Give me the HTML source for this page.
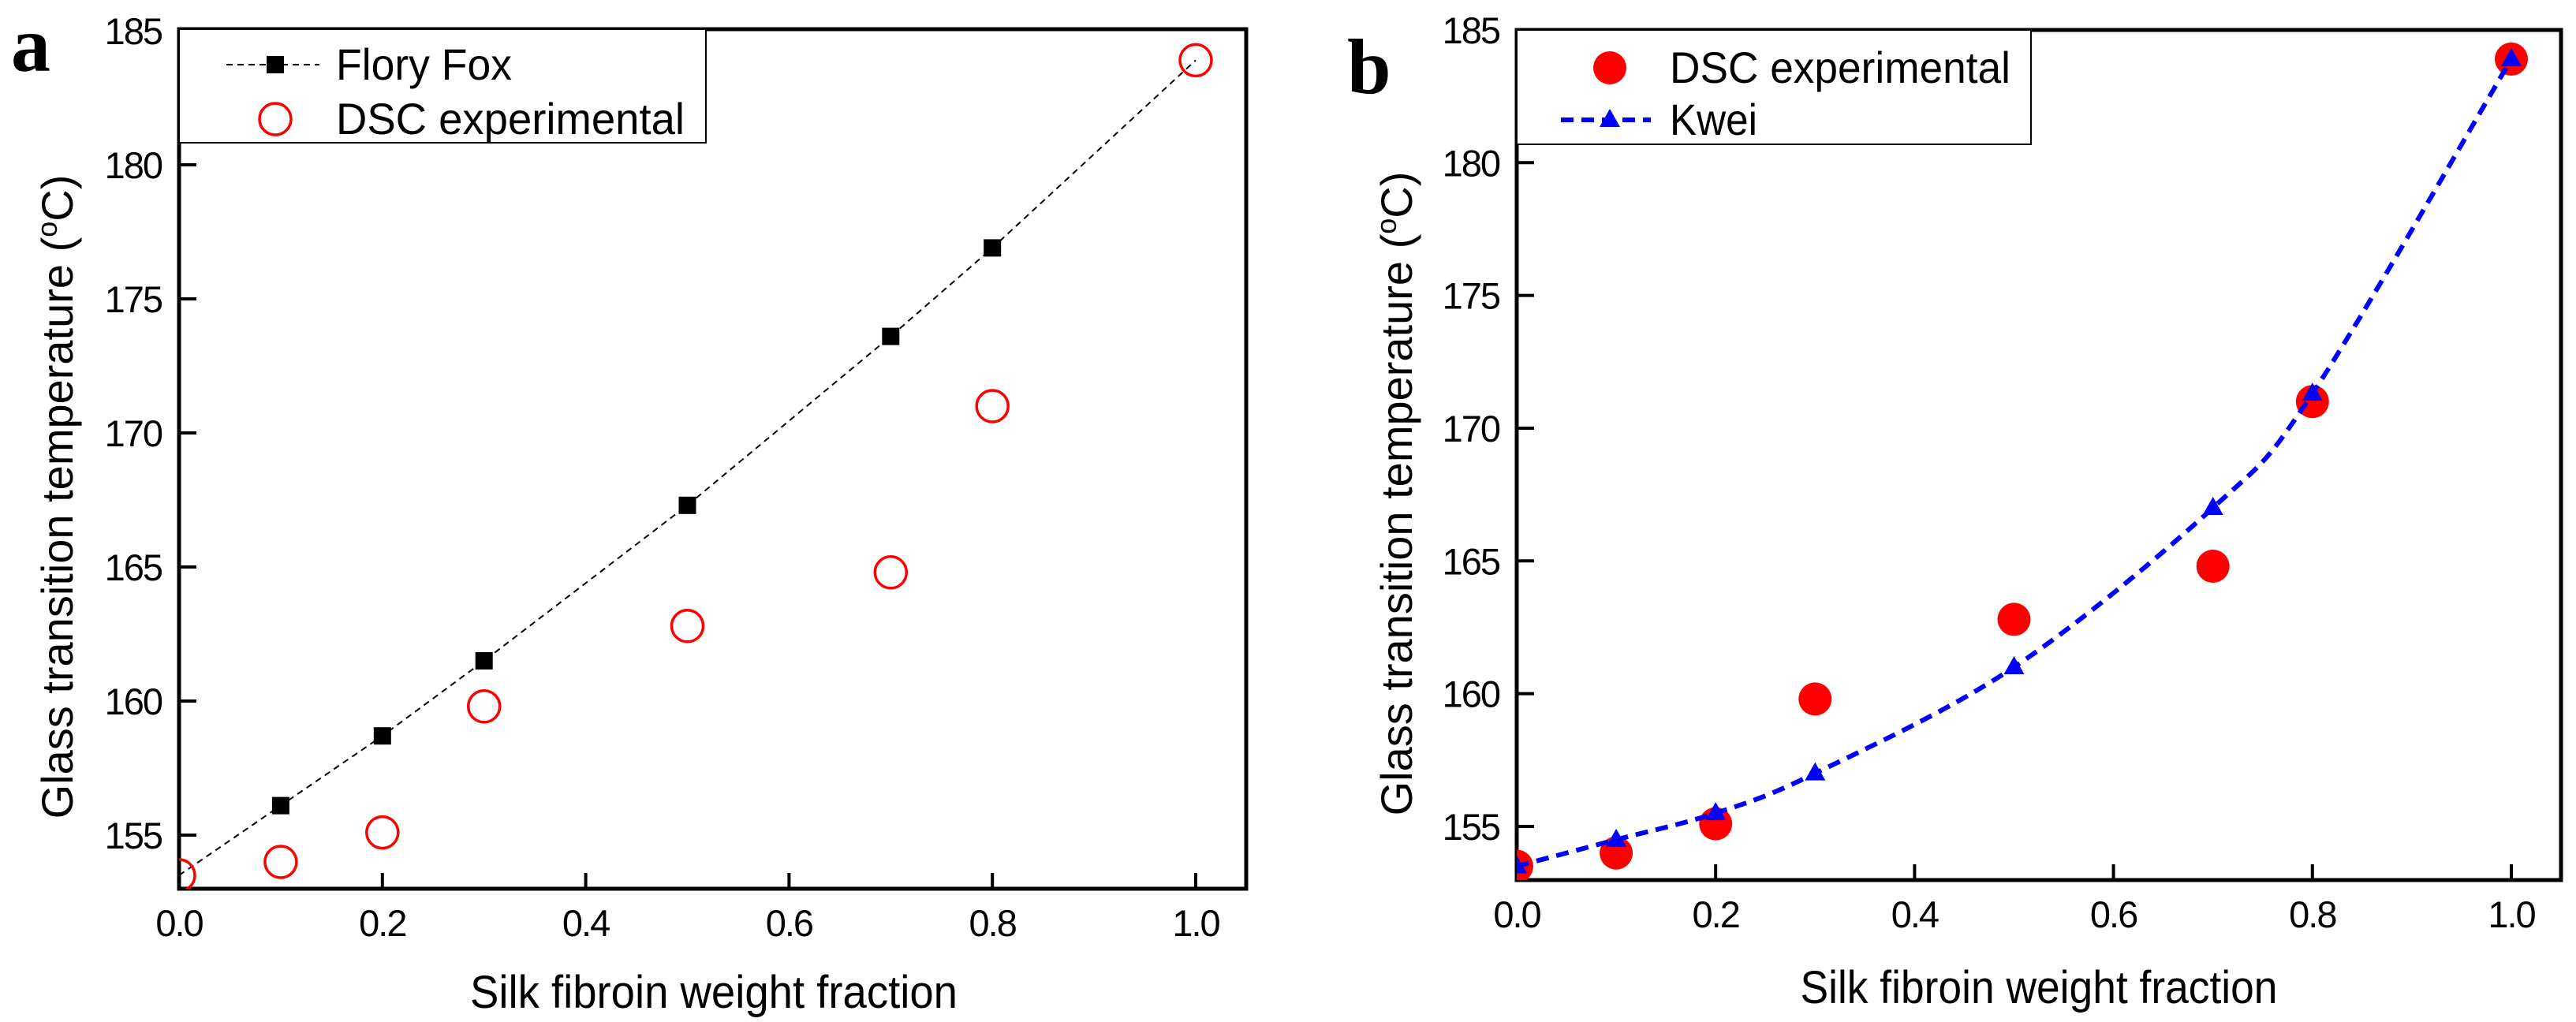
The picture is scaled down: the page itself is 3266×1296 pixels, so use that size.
<!DOCTYPE html>
<html><head><meta charset="utf-8"><style>
html,body{margin:0;padding:0;background:#fff;}
svg{display:block;font-family:"Liberation Sans",Arial,sans-serif;}
</style></head><body>
<svg id="fig" width="3266" height="1296" viewBox="0 0 3266 1296"></svg>
<script>
const xVals = [0, 0.1, 0.2, 0.3, 0.5, 0.7, 0.8, 1.0];
const floryFox = [153.5, 156.1, 158.7, 161.5, 167.3, 173.6, 176.9, 183.9];
const dscExp = [153.5, 154.0, 155.1, 159.8, 162.8, 164.8, 171.0, 183.9];
const kwei = [153.5, 154.5, 155.5, 157.0, 161.0, 167.0, 171.3, 183.9];
const xTicks = [0, 0.2, 0.4, 0.6, 0.8, 1.0];
const xTickLabels = ["0.0", "0.2", "0.4", "0.6", "0.8", "1.0"];
const yTicks = [155, 160, 165, 170, 175, 180, 185];
const yTickLabels = ["155", "160", "165", "170", "175", "180", "185"];

const NS = "http://www.w3.org/2000/svg";
const svg = document.getElementById('fig');
function mk(tag, attrs, parent, text){
  const e = document.createElementNS(NS, tag);
  for (const k in attrs) e.setAttribute(k, attrs[k]);
  if (text !== undefined) e.textContent = text;
  (parent || svg).appendChild(e);
  return e;
}
function makeAxes(L, R, T, B, x1px, y155, yPerUnit){
  const sx = v => L + v * (x1px - L);
  const sy = v => y155 - (v - 155) * yPerUnit;
  return {sx, sy, L, R, T, B};
}
function drawFrame(ax, g){
  for (let i = 0; i < xTicks.length; i++){
    const x = ax.sx(xTicks[i]);
    const t = mk('line', {x1:x, x2:x, y1:ax.B, y2:ax.B-20, stroke:'#000', 'stroke-width':4}, g);
    
    
    const lb = mk('text', {x:x, y:ax.B+60, 'font-size':47, 'letter-spacing':-2, 'text-anchor':'middle', fill:'#000'}, g, xTickLabels[i]);
    
    
  }
  for (let i = 0; i < yTicks.length; i++){
    const y = ax.sy(yTicks[i]);
    const t = mk('line', {x1:ax.L, x2:ax.L+22, y1:y, y2:y, stroke:'#000', 'stroke-width':4}, g);
    
    
    const lb = mk('text', {x:ax.L-22, y:y+17, 'font-size':47, 'letter-spacing':-2, 'text-anchor':'end', fill:'#000'}, g, yTickLabels[i]);
    
    
  }
  const fr = mk('rect', {x:ax.L, y:ax.T, width:ax.R-ax.L, height:ax.B-ax.T, fill:'none', stroke:'#000', 'stroke-width':5}, g);
  
  
}
function smoothPath(pts){
  let d = `M${pts[0][0]},${pts[0][1]}`;
  for (let i = 0; i < pts.length-1; i++){
    const p0 = pts[Math.max(0,i-1)], p1 = pts[i], p2 = pts[i+1], p3 = pts[Math.min(pts.length-1,i+2)];
    const c1x = p1[0] + (p2[0]-p0[0])/6, c1y = p1[1] + (p2[1]-p0[1])/6;
    const c2x = p2[0] - (p3[0]-p1[0])/6, c2y = p2[1] - (p3[1]-p1[1])/6;
    d += ` C${c1x},${c1y} ${c2x},${c2y} ${p2[0]},${p2[1]}`;
  }
  return d;
}

/* Panel a */
const gA = mk('g', {});  
const axA = makeAxes(227, 1580, 37, 1127, 1516, 1059, 34);
drawFrame(axA, gA);
const ffPts = xVals.map((x,i)=>[axA.sx(x), axA.sy(floryFox[i])]);
const ffLine = mk('polyline', {points: ffPts.map(p=>p.join(',')).join(' '), fill:'none', stroke:'#000', 'stroke-width':2, 'stroke-dasharray':'8,6'}, gA);


ffPts.forEach((p,i)=>{
  if (i === 0 || i === ffPts.length-1) return;
  const s = mk('rect', {x:p[0]-11, y:p[1]-11, width:22, height:22, fill:'#000'}, gA);
  
  
});
const clipA = mk('clipPath', {id:'clipA'}, gA);
mk('rect', {x:axA.L, y:axA.T, width:axA.R-axA.L, height:axA.B-axA.T}, clipA);
xVals.forEach((x,i)=>{
  const c = mk('circle', {cx:axA.sx(x), cy:axA.sy(dscExp[i]), r:20, fill:'none', stroke:'#f00', 'stroke-width':3.5, 'clip-path':'url(#clipA)'}, gA);
  
  
});
/* legend a */
const legA = mk('g', {}, gA);  
mk('rect', {x:227, y:37, width:668, height:144, fill:'#fff', stroke:'#000', 'stroke-width':2}, legA);
mk('line', {x1:287, x2:405, y1:82, y2:82, stroke:'#000', 'stroke-width':2, 'stroke-dasharray':'8,6'}, legA);
mk('rect', {x:338, y:71, width:22, height:22, fill:'#000'}, legA);
mk('text', {x:426, y:101, 'font-size':56, textLength:223, lengthAdjust:'spacingAndGlyphs'}, legA, 'Flory Fox');
mk('circle', {cx:349, cy:151, r:20, fill:'none', stroke:'#f00', 'stroke-width':3.5}, legA);
mk('text', {x:426, y:170, 'font-size':56, textLength:442, lengthAdjust:'spacingAndGlyphs'}, legA, 'DSC experimental');
const tA = mk('text', {x:0, y:0, dy:19, 'font-size':56, 'text-anchor':'middle', transform:'translate(73,630) rotate(-90)'}, gA);
tA.innerHTML = 'Glass transition temperature (<tspan dy="-20" font-size="36">o</tspan><tspan dy="20">C)</tspan>';
 
const xA = mk('text', {x:905, y:1278, 'font-size':58, 'text-anchor':'middle', textLength:618, lengthAdjust:'spacingAndGlyphs'}, gA, 'Silk fibroin weight fraction');
 
const la = mk('text', {x:14, y:90, 'font-size':100, 'font-weight':'bold', 'font-family':'"Liberation Serif",serif'}, gA, 'a');
 

/* Panel b */
const gB = mk('g', {});  
const axB = makeAxes(1923, 3247, 38, 1116, 3184, 1048, 33.67);
drawFrame(axB, gB);
const clipB = mk('clipPath', {id:'clipB'}, gB);
mk('rect', {x:axB.L, y:axB.T, width:axB.R-axB.L, height:axB.B-axB.T}, clipB);
xVals.forEach((x,i)=>{
  const c = mk('circle', {cx:axB.sx(x), cy:axB.sy(dscExp[i]), r:21, fill:'#f00', 'clip-path':'url(#clipB)'}, gB);
  
  
});
const kPts = xVals.map((x,i)=>[axB.sx(x), axB.sy(kwei[i])]);
const kLine = mk('path', {d:smoothPath(kPts), fill:'none', stroke:'#00f', 'stroke-width':6, 'stroke-dasharray':'16,10'}, gB);


kPts.forEach(p=>{
  const t = mk('polygon', {points:`${p[0]},${p[1]-14} ${p[0]-13},${p[1]+9} ${p[0]+13},${p[1]+9}`, fill:'#00f', 'clip-path':'url(#clipB)'}, gB);
  
  
});
const legB = mk('g', {}, gB);  
mk('rect', {x:1923, y:38, width:652, height:145, fill:'#fff', stroke:'#000', 'stroke-width':2}, legB);
mk('circle', {cx:2041, cy:86, r:21, fill:'#f00'}, legB);
mk('text', {x:2117, y:105, 'font-size':56, textLength:432, lengthAdjust:'spacingAndGlyphs'}, legB, 'DSC experimental');
mk('line', {x1:1979, x2:2093, y1:152, y2:152, stroke:'#00f', 'stroke-width':6, 'stroke-dasharray':'16,10'}, legB);
mk('polygon', {points:'2041,138 2028,161 2054,161', fill:'#00f'}, legB);
mk('text', {x:2117, y:171, 'font-size':56, textLength:111, lengthAdjust:'spacingAndGlyphs'}, legB, 'Kwei');
const tB = mk('text', {x:0, y:0, dy:19, 'font-size':56, 'text-anchor':'middle', transform:'translate(1771,626) rotate(-90)'}, gB);
tB.innerHTML = 'Glass transition temperature (<tspan dy="-20" font-size="36">o</tspan><tspan dy="20">C)</tspan>';
 
const xB = mk('text', {x:2585, y:1272, 'font-size':58, 'text-anchor':'middle', textLength:605, lengthAdjust:'spacingAndGlyphs'}, gB, 'Silk fibroin weight fraction');
 
const lb2 = mk('text', {x:1708, y:118, 'font-size':100, 'font-weight':'bold', 'font-family':'"Liberation Serif",serif'}, gB, 'b');
 
</script>
</body></html>
